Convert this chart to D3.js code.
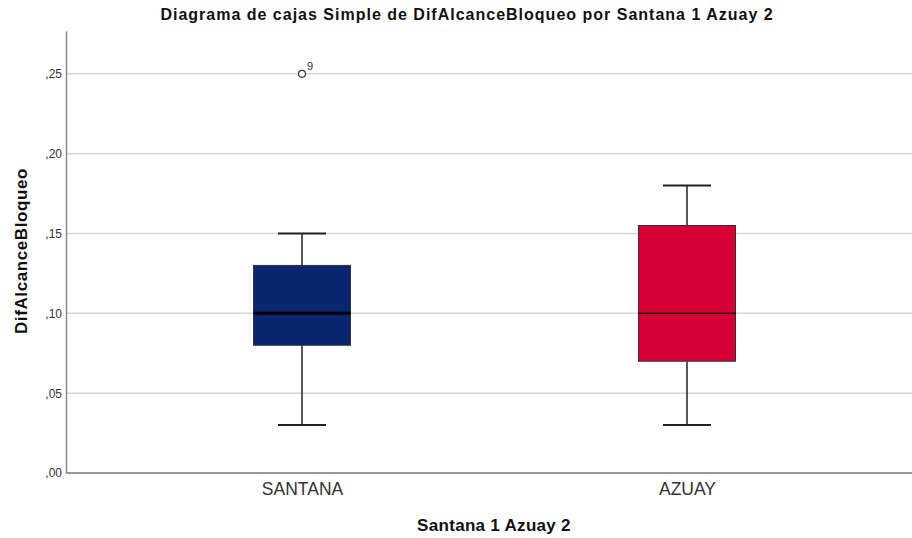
<!DOCTYPE html>
<html>
<head>
<meta charset="utf-8">
<script src="https://cdn.jsdelivr.net/npm/d3@7"></script>
<style>
  html, body { margin: 0; padding: 0; background: #fff; }
  svg { display: block; font-family: "Liberation Sans", Arial, sans-serif; }
</style>
</head>
<body>
<svg id="chart" width="912" height="538"></svg>
<script>
// Box-plot summaries per group
const categories = ["SANTANA", "AZUAY"];
const whiskerLow = [0.03, 0.03];
const q1 = [0.08, 0.07];
const median = [0.10, 0.10];
const q3 = [0.13, 0.155];
const whiskerHigh = [0.15, 0.18];
const boxColors = ["#0b2670", "#d70034"];
const medianWidths = [3, 1.2];
// Outliers: group index, value, case label
const outlierGroup = [0];
const outlierValue = [0.25];
const outlierLabel = ["9"];
const yTicks = [0, 0.05, 0.10, 0.15, 0.20, 0.25];

const svg = d3.select("#chart");
const plotLeft = 66, plotRight = 923, plotTop = 31, plotBottom = 473;

const y = d3.scaleLinear().domain([0, 0.2768]).range([plotBottom, plotTop]);
const x = d3.scalePoint().domain(categories).range([plotLeft, plotRight]).padding(0.613);

const fmt = v => d3.format(".2f")(v).replace(/^0/, "").replace(".", ",");

// Gridlines
svg.append("g")
  .selectAll("line")
  .data(yTicks.filter(t => t > 0))
  .join("line")
  .attr("x1", plotLeft).attr("x2", 912)
  .attr("y1", d => y(d)).attr("y2", d => y(d))
  .attr("stroke", "#d6d6d6").attr("stroke-width", 1.5);

// Y axis
const yAxis = svg.append("g")
  .attr("transform", `translate(${plotLeft},0)`)
  .call(d3.axisLeft(y).tickValues(yTicks).tickFormat(fmt).tickSize(0).tickPadding(4));
yAxis.select(".domain").attr("stroke", "#8a8a8a").attr("stroke-width", 1.5);
yAxis.selectAll("text").attr("fill", "#333").style("font-size", "12px").attr("dy", "0.32em");

// X axis
const xAxis = svg.append("g")
  .attr("transform", `translate(0,${plotBottom})`)
  .call(d3.axisBottom(x).tickSize(0).tickPadding(10));
xAxis.select(".domain").attr("d", `M${plotLeft},0H912`).attr("stroke", "#7a7a7a").attr("stroke-width", 1.5);
xAxis.selectAll("text").attr("fill", "#333").style("font-size", "17.5px");

// Boxes
const boxW = 97, capW = 48;
const groups = svg.append("g").selectAll("g")
  .data(categories.map((c, i) => ({ c, i })))
  .join("g");

groups.append("line")
  .attr("x1", d => x(d.c)).attr("x2", d => x(d.c))
  .attr("y1", d => y(whiskerHigh[d.i])).attr("y2", d => y(q3[d.i]))
  .attr("stroke", "#222").attr("stroke-width", 1.5);
groups.append("line")
  .attr("x1", d => x(d.c)).attr("x2", d => x(d.c))
  .attr("y1", d => y(q1[d.i])).attr("y2", d => y(whiskerLow[d.i]))
  .attr("stroke", "#222").attr("stroke-width", 1.5);
groups.append("line")
  .attr("x1", d => x(d.c) - capW / 2).attr("x2", d => x(d.c) + capW / 2)
  .attr("y1", d => y(whiskerHigh[d.i])).attr("y2", d => y(whiskerHigh[d.i]))
  .attr("stroke", "#222").attr("stroke-width", 2);
groups.append("line")
  .attr("x1", d => x(d.c) - capW / 2).attr("x2", d => x(d.c) + capW / 2)
  .attr("y1", d => y(whiskerLow[d.i])).attr("y2", d => y(whiskerLow[d.i]))
  .attr("stroke", "#222").attr("stroke-width", 2);
groups.append("rect")
  .attr("x", d => x(d.c) - boxW / 2).attr("width", boxW)
  .attr("y", d => y(q3[d.i])).attr("height", d => y(q1[d.i]) - y(q3[d.i]))
  .attr("fill", d => boxColors[d.i])
  .attr("stroke", "#333").attr("stroke-width", 1);
groups.append("line")
  .attr("x1", d => x(d.c) - boxW / 2).attr("x2", d => x(d.c) + boxW / 2)
  .attr("y1", d => y(median[d.i])).attr("y2", d => y(median[d.i]))
  .attr("stroke", "#000").attr("stroke-width", d => medianWidths[d.i]);

// Outliers
const outs = outlierValue.map((v, k) => ({ v, c: categories[outlierGroup[k]], label: outlierLabel[k] }));
svg.append("g").selectAll("circle").data(outs).join("circle")
  .attr("cx", d => x(d.c)).attr("cy", d => y(d.v)).attr("r", 3.5)
  .attr("fill", "#fff").attr("stroke", "#333").attr("stroke-width", 1.2);
svg.append("g").selectAll("text").data(outs).join("text")
  .attr("x", d => x(d.c) + 5).attr("y", d => y(d.v) - 4)
  .attr("fill", "#333").style("font-size", "11px")
  .text(d => d.label);

// Titles
svg.append("text")
  .attr("x", 467).attr("y", 20).attr("text-anchor", "middle")
  .style("font-size", "16px").style("font-weight", "bold").style("letter-spacing", "1px")
  .attr("fill", "#111")
  .text("Diagrama de cajas Simple de DifAlcanceBloqueo por Santana 1 Azuay 2");
svg.append("text")
  .attr("x", 494).attr("y", 531).attr("text-anchor", "middle")
  .style("font-size", "17px").style("font-weight", "bold").style("letter-spacing", "0.3px")
  .attr("fill", "#111")
  .text("Santana 1 Azuay 2");
svg.append("text")
  .attr("transform", "translate(26.5,251) rotate(-90)").attr("text-anchor", "middle")
  .style("font-size", "17px").style("font-weight", "bold").style("letter-spacing", "0.6px")
  .attr("fill", "#111")
  .text("DifAlcanceBloqueo");
</script>
</body>
</html>
